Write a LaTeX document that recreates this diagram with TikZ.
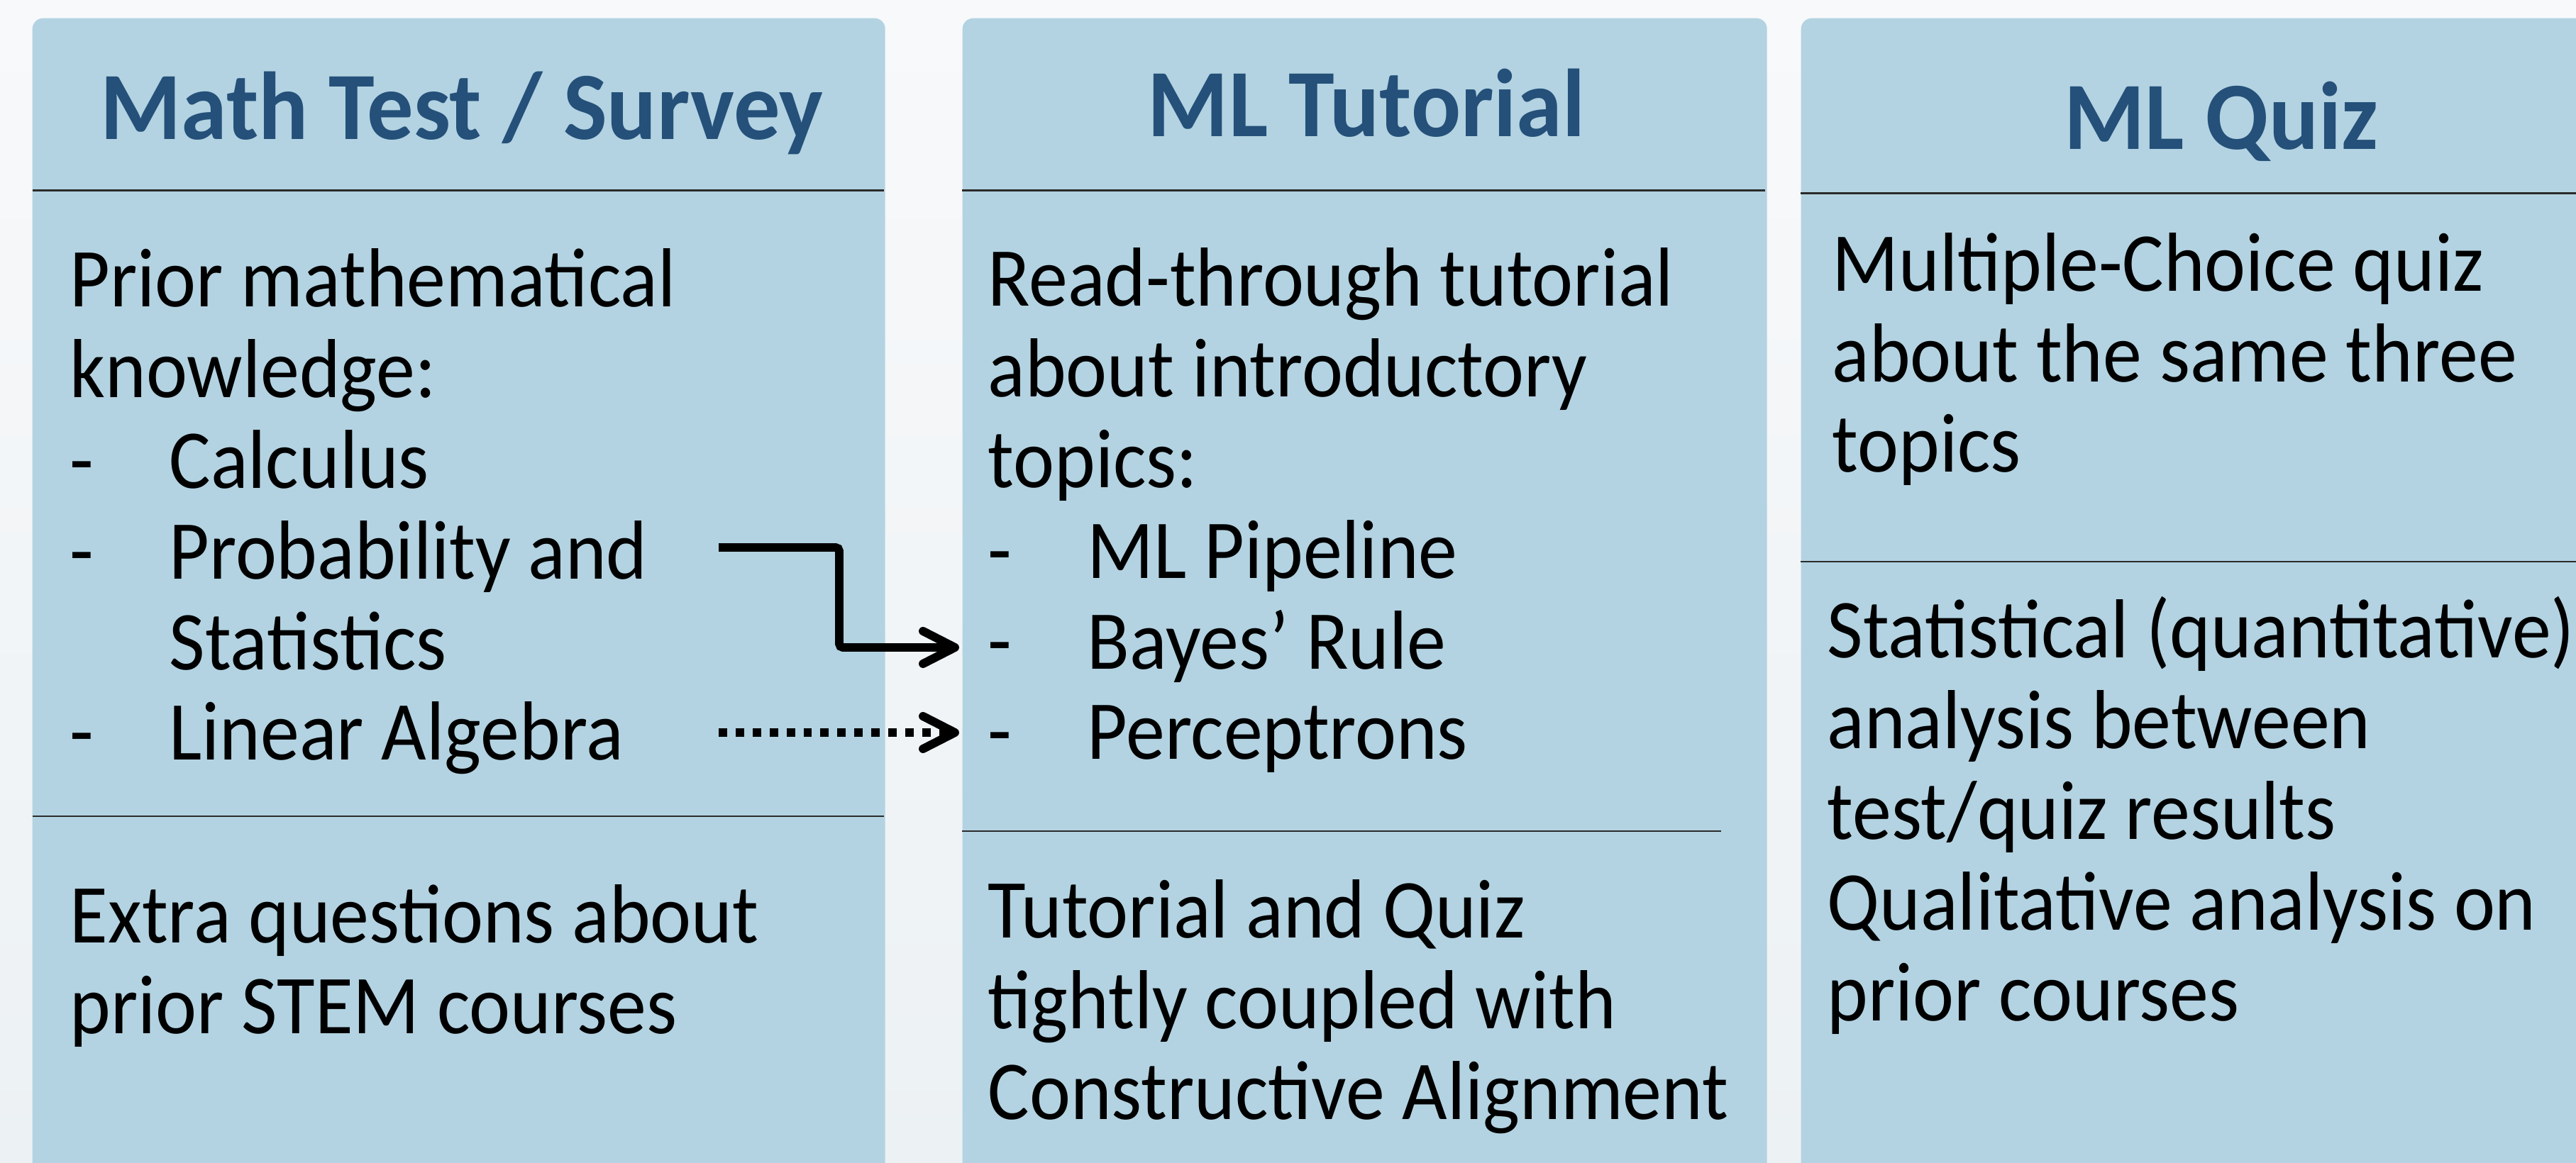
\documentclass[tikz,border=0pt]{standalone}
\usepackage{fontspec}
\setmainfont{Carlito}[FakeStretch=0.93, BoldFeatures={FakeStretch=0.96}]
\usetikzlibrary{arrows.meta,positioning}

\definecolor{panelblue}{HTML}{B3D3E2}
\definecolor{titleblue}{HTML}{245079}
\definecolor{rulegray}{HTML}{2B2B2B}
\definecolor{bgtop}{HTML}{F8F9FB}
\definecolor{bgbottom}{HTML}{ECF1F3}

% list items with a dash and a hanging indent
\newcommand{\itm}[1]{\makebox[1.40cm][l]{-}#1}
\newcommand{\cnt}[1]{\hspace*{1.40cm}#1}

\begin{document}
\begin{tikzpicture}[
        panel/.style={rectangle, fill=panelblue, rounded corners=0.15cm, anchor=north west, minimum height=17cm, inner sep=0pt},
        heading/.style={anchor=base, inner sep=0pt, text=titleblue, font=\fontsize{38.7}{44}\selectfont\bfseries},
        body/.style={anchor=base west, align=left, inner sep=0pt, font=\fontsize{33.6}{36.4}\selectfont},
        rule/.style={draw=rulegray, line width=0.85pt},
        flow/.style={line width=3.4pt, -{Straight Barb[length=4.5mm, width=4.6mm, round]}},
        ]

        \useasboundingbox (0,0) rectangle (36.31,16.39);
        \shade[top color=bgtop, bottom color=bgbottom] (0,0) rectangle (36.31,16.39);

        % Three columns
        \node[panel, minimum width=12.02cm] (test) at (0.45,16.14) {};
        \node[panel, minimum width=11.34cm] (tutorial) at (13.56,16.14) {};
        \node[panel, minimum width=11.86cm] (quiz) at (25.38,16.14) {};

        % Column titles
        \node[heading] (testtitle) at (6.51,14.42) {Math Test / Survey};
        \node[heading] (tutorialtitle) at (19.26,14.46) {ML Tutorial};
        \node[heading] (quiztitle) at (31.31,14.28) {ML Quiz};

        % Separators
        \draw[rule] (0.46,13.70) -- (12.46,13.70);
        \draw[rule] (13.56,13.70) -- (24.88,13.70);
        \draw[rule] (25.38,13.66) -- (36.40,13.66);
        \draw[rule] (0.46,4.88) -- (12.46,4.88);
        \draw[rule] (13.56,4.67) -- (24.26,4.67);
        \draw[rule] (25.38,8.47) -- (36.40,8.47);

        % Math test column (placed by the baseline of the last line)
        \node[body] (mathprior) at (0.98,5.67) {Prior mathematical\\ knowledge:\\ \itm{Calculus}\\ \itm{Probability and}\\ \cnt{Statistics}\\ \itm{Linear Algebra}};
        \node[body] (stem) at (0.98,1.82) {Extra questions about\\ prior STEM courses};

        % Tutorial column
        \node[body] (topics) at (13.92,5.68) {Read-through tutorial\\ about introductory\\ topics:\\ \itm{ML Pipeline}\\ \itm{Bayes' Rule}\\ \itm{Perceptrons}};
        \node[body] (coupling) at (13.92,0.61) {Tutorial and Quiz\\ tightly coupled with\\ Constructive Alignment};

        % Quiz column
        \node[body] (mcq) at (25.82,9.73) {Multiple-Choice quiz\\ about the same three\\ topics};
        \node[body] (analysis) at (25.75,2.00) {Statistical (quantitative)\\ analysis between\\ test/quiz results\\ Qualitative analysis on\\ prior courses};

        % Links between topics
        \coordinate (probout) at (10.13,8.67);
        \coordinate (bend) at (11.83,7.26);
        \coordinate (bayesin) at (13.52,7.26);
        \coordinate (linout) at (10.13,6.06);
        \coordinate (percin) at (13.52,6.06);
        \draw[flow, rounded corners=1.5pt] (probout) -| (bend) -- (bayesin);
        \draw[flow, dash pattern=on 3.4pt off 3.4pt] (linout) -- (percin);

    \end{tikzpicture}
\end{document}
